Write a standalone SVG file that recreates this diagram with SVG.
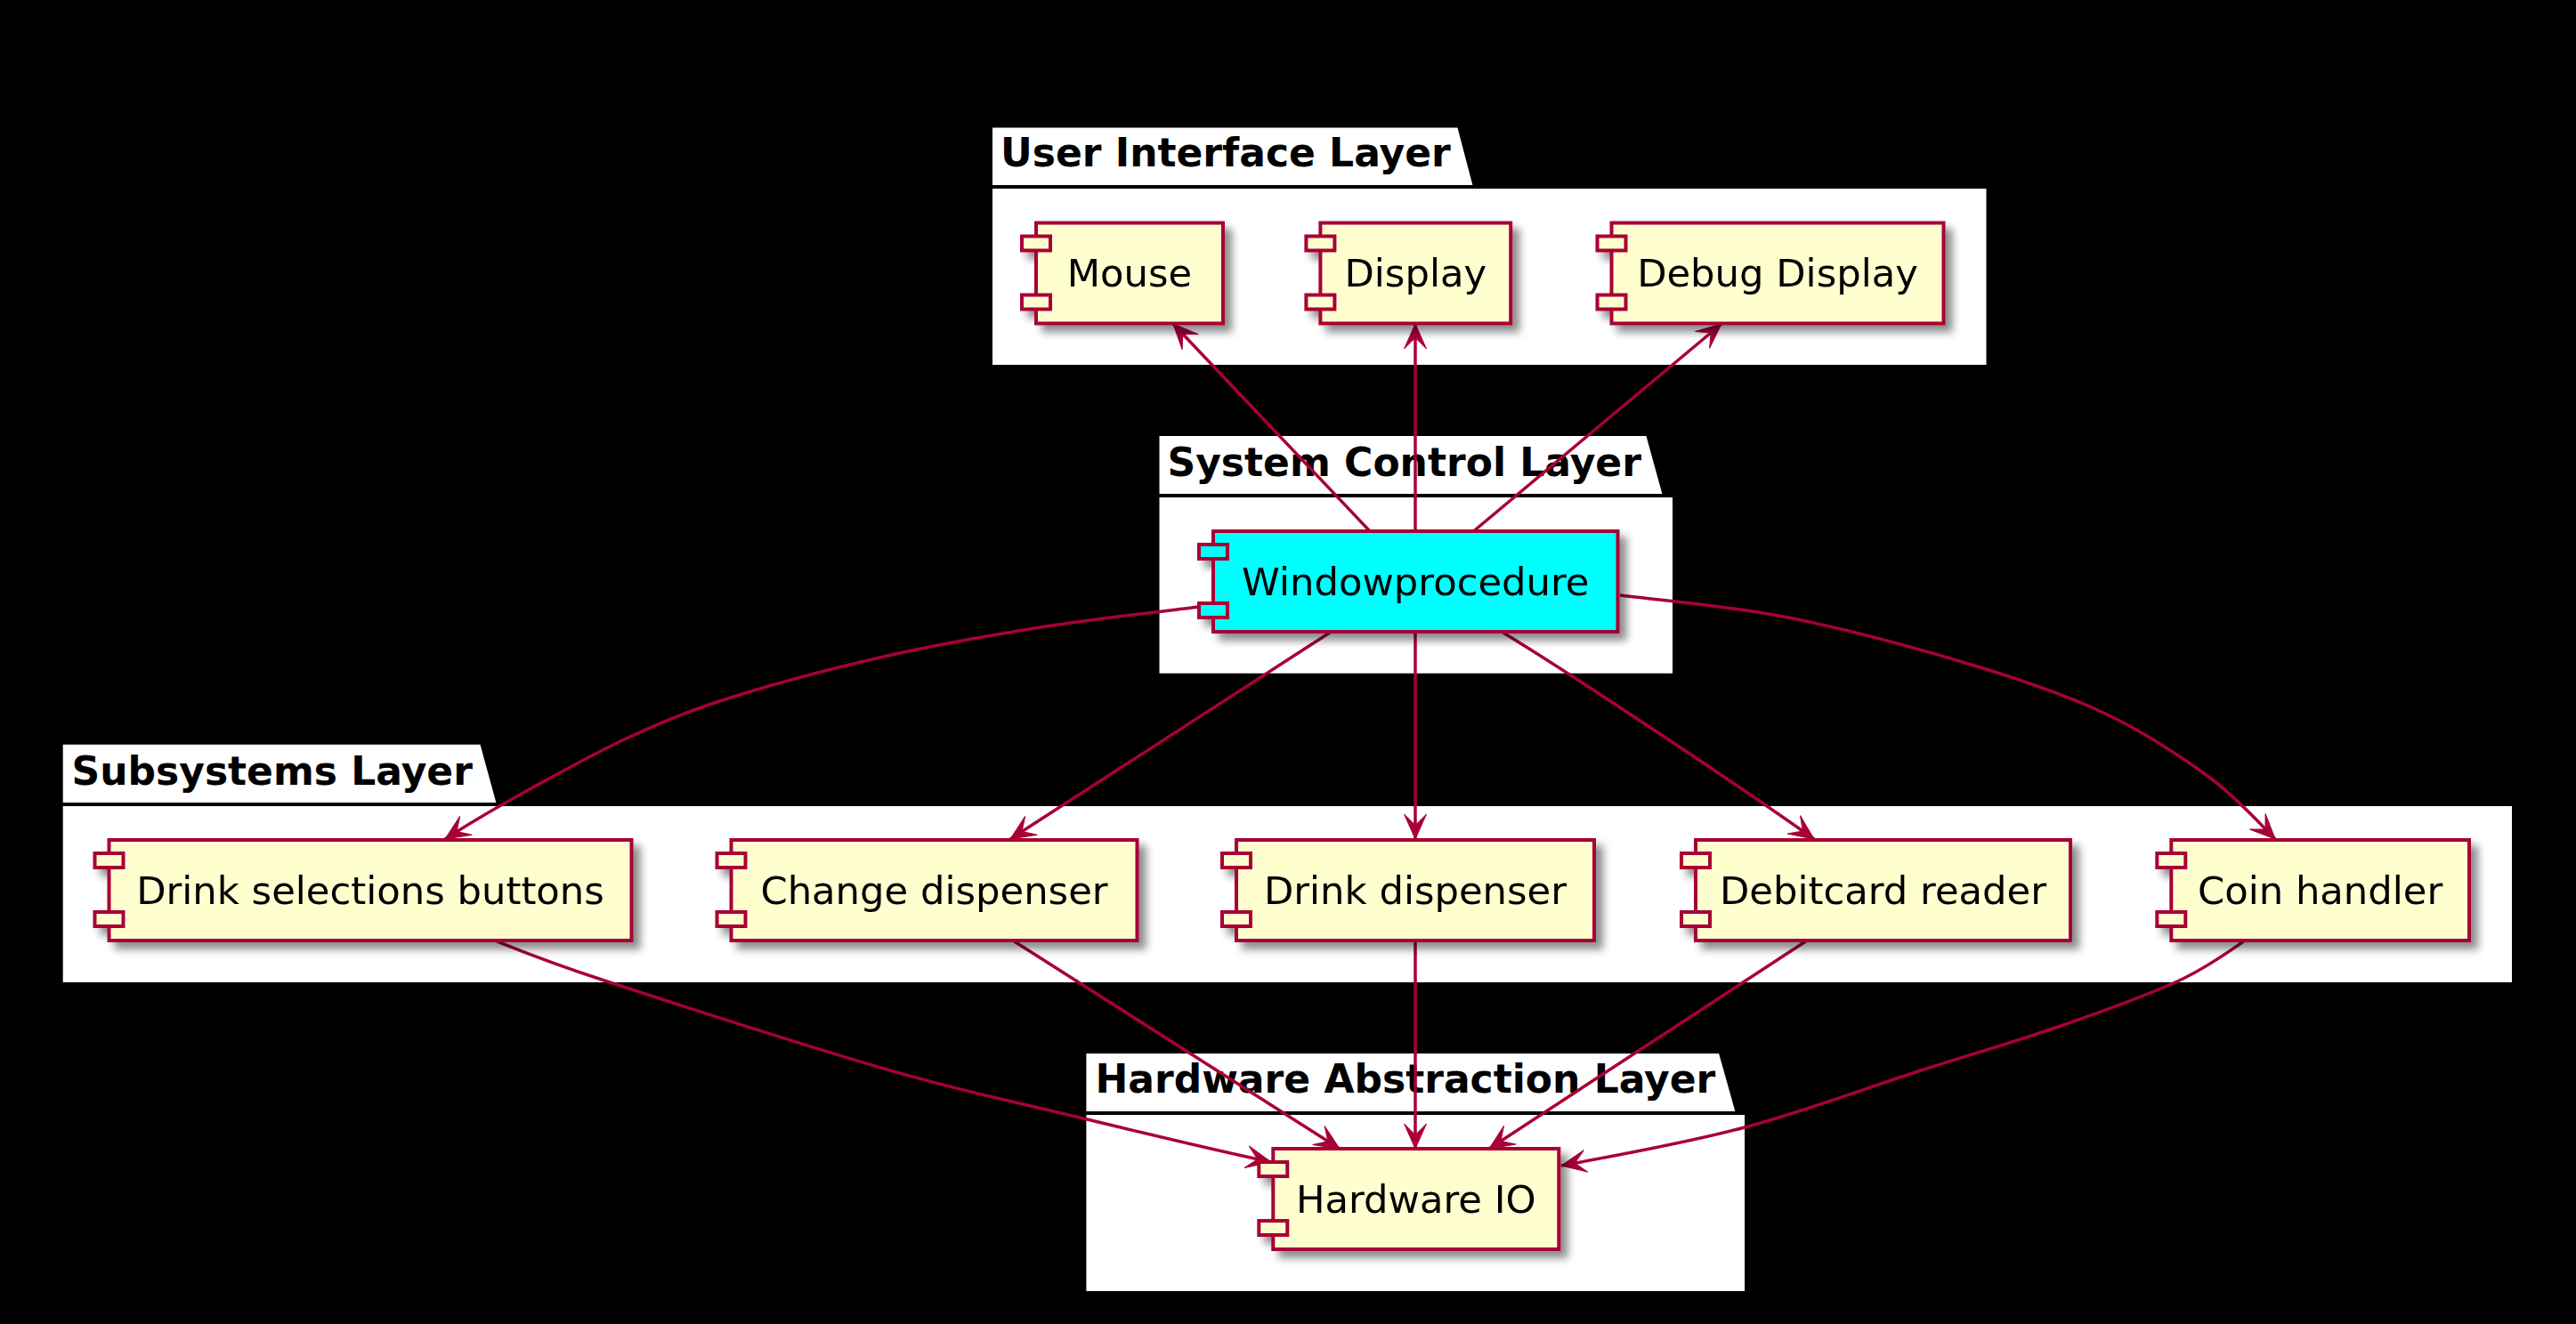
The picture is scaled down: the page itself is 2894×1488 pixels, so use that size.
<svg xmlns="http://www.w3.org/2000/svg" width="2894" height="1488" viewBox="0 0 2894 1488">
<style>
.pkg{fill:#FFFFFF;stroke:#000000;stroke-width:4}
.pkgline{fill:none;stroke:#000000;stroke-width:4}
.ptitle{font-family:"DejaVu Sans",sans-serif;font-weight:bold;font-size:44px;fill:#000000}
.node{fill:#FEFECE;stroke:#A80036;stroke-width:4}
.node.hl{fill:#00FFFF}
.port{fill:#FEFECE;stroke:#A80036;stroke-width:4}
.port.hl{fill:#00FFFF}
.label{font-family:"DejaVu Sans",sans-serif;font-size:43.3px;fill:#000000;text-anchor:middle}
.edge{fill:none;stroke:#A80036;stroke-width:3.5;marker-end:url(#arrow)}
</style>
<defs>
<filter id="shadow" x="-20%" y="-20%" width="150%" height="160%">
<feGaussianBlur in="SourceAlpha" stdDeviation="5"/>
<feOffset dx="8" dy="8" result="b"/>
<feFlood flood-color="#000000" flood-opacity="0.45"/>
<feComposite in2="b" operator="in" result="s"/>
<feMerge><feMergeNode in="s"/><feMergeNode in="SourceGraphic"/></feMerge>
</filter>
<marker id="arrow" viewBox="0 -14 30 28" refX="28" refY="0" markerWidth="30" markerHeight="28" markerUnits="userSpaceOnUse" orient="auto" overflow="visible">
<path d="M28,0 L0,-12.5 L12.5,0 L0,12.5 Z" fill="#A80036" stroke="#A80036" stroke-width="1"/>
</marker>
</defs>
<rect x="0" y="0" width="2894" height="1488" fill="#000000"/>

<g id="pkg-ui">
<path class="pkg" d="M1113 141.5 L1639 141.5 L1657 210 L2233.5 210 L2233.5 412 L1113 412 Z"/>
<path class="pkgline" d="M1113 210 L1657 210"/>
<text class="ptitle" x="1124" y="187">User Interface Layer</text>
</g>
<g id="pkg-sc">
<path class="pkg" d="M1300.5 488 L1851 488 L1870 557 L1881 557 L1881 758.7 L1300.5 758.7 Z"/>
<path class="pkgline" d="M1300.5 557 L1870 557"/>
<text class="ptitle" x="1311.5" y="535">System Control Layer</text>
</g>
<g id="pkg-sub">
<path class="pkg" d="M68.7 834.7 L541 834.7 L560 904 L2824 904 L2824 1106 L68.7 1106 Z"/>
<path class="pkgline" d="M68.7 904 L560 904"/>
<text class="ptitle" x="80.5" y="881.5">Subsystems Layer</text>
</g>
<g id="pkg-hal">
<path class="pkg" d="M1218.4 1182 L1932.6 1182 L1952 1251 L1962 1251 L1962 1453 L1218.4 1453 Z"/>
<path class="pkgline" d="M1218.4 1251 L1952 1251"/>
<text class="ptitle" x="1230.5" y="1228">Hardware Abstraction Layer</text>
</g>

<g id="connectors">
<path class="edge" d="M1539 597 L1318 364"/>
<path class="edge" d="M1590 597 L1590 364"/>
<path class="edge" d="M1655.5 597 L1934 364"/>
<path class="edge" d="M1347 682 C1317.3 685.8 1227.3 695.8 1169 705 C1110.7 714.2 1054.5 724 997 737 C939.5 750 871.8 768 824 783 C776.2 798 748.2 809.7 710 827 C671.8 844.3 630 867.8 595 887 C560 906.2 515.8 932.8 500 943"/>
<path class="edge" d="M1495.4 710 L1135 943"/>
<path class="edge" d="M1590 710 L1590 943"/>
<path class="edge" d="M1687 710 C1767 758.4 1958 886 2038 943"/>
<path class="edge" d="M1820 669 C1850.7 673 1939.3 680.3 2004 693 C2068.7 705.7 2148.5 727.2 2208 745 C2267.5 762.8 2315.7 778.8 2361 800 C2406.3 821.2 2447.5 848.3 2480 872 C2512.5 895.7 2543.3 930.3 2556 943"/>
<path class="edge" d="M556 1057 C577 1065.5 608 1078.8 682 1103 C756 1127.2 912.2 1177.7 1000 1203 C1087.8 1228.3 1137.7 1237.7 1209 1255 C1280.3 1272.3 1391.5 1298.3 1428 1306"/>
<path class="edge" d="M1138 1057 L1505 1291"/>
<path class="edge" d="M1590 1057 L1590 1291"/>
<path class="edge" d="M2030 1057 L1673 1291"/>
<path class="edge" d="M2522 1057 C2509.3 1065.5 2480.5 1087.2 2446 1103 C2411.5 1118.8 2363 1136.3 2315 1153 C2267 1169.7 2217.2 1184 2158 1203 C2098.8 1222 2027.3 1249 1960 1267 C1892.7 1285 1788.3 1303.7 1754 1310"/>
</g>

<g id="mouse" filter="url(#shadow)">
<rect class="node" x="1164" y="250.5" width="210" height="113"/>
<rect class="port" x="1148" y="265.5" width="32" height="16"/>
<rect class="port" x="1148" y="331.5" width="32" height="16"/>
<text class="label" x="1269" y="322">Mouse</text>
</g>
<g id="display" filter="url(#shadow)">
<rect class="node" x="1483.4" y="250.5" width="213.8" height="113"/>
<rect class="port" x="1467.4" y="265.5" width="32" height="16"/>
<rect class="port" x="1467.4" y="331.5" width="32" height="16"/>
<text class="label" x="1590.3" y="322">Display</text>
</g>
<g id="debug-display" filter="url(#shadow)">
<rect class="node" x="1810.5" y="250.5" width="373" height="113"/>
<rect class="port" x="1794.5" y="265.5" width="32" height="16"/>
<rect class="port" x="1794.5" y="331.5" width="32" height="16"/>
<text class="label" x="1997" y="322">Debug Display</text>
</g>
<g id="windowprocedure" filter="url(#shadow)">
<rect class="node hl" x="1363" y="597" width="454.5" height="113"/>
<rect class="port hl" x="1347" y="612" width="32" height="16"/>
<rect class="port hl" x="1347" y="678" width="32" height="16"/>
<text class="label" x="1590.3" y="668.5">Windowprocedure</text>
</g>
<g id="drink-selections-buttons" filter="url(#shadow)">
<rect class="node" x="122.5" y="944" width="587" height="113"/>
<rect class="port" x="106.5" y="959" width="32" height="16"/>
<rect class="port" x="106.5" y="1025" width="32" height="16"/>
<text class="label" x="416" y="1015.5">Drink selections buttons</text>
</g>
<g id="change-dispenser" filter="url(#shadow)">
<rect class="node" x="821.5" y="944" width="456" height="113"/>
<rect class="port" x="805.5" y="959" width="32" height="16"/>
<rect class="port" x="805.5" y="1025" width="32" height="16"/>
<text class="label" x="1049.5" y="1015.5">Change dispenser</text>
</g>
<g id="drink-dispenser" filter="url(#shadow)">
<rect class="node" x="1389" y="944" width="402" height="113"/>
<rect class="port" x="1373" y="959" width="32" height="16"/>
<rect class="port" x="1373" y="1025" width="32" height="16"/>
<text class="label" x="1590" y="1015.5">Drink dispenser</text>
</g>
<g id="debitcard-reader" filter="url(#shadow)">
<rect class="node" x="1905" y="944" width="421" height="113"/>
<rect class="port" x="1889" y="959" width="32" height="16"/>
<rect class="port" x="1889" y="1025" width="32" height="16"/>
<text class="label" x="2115.5" y="1015.5">Debitcard reader</text>
</g>
<g id="coin-handler" filter="url(#shadow)">
<rect class="node" x="2439.3" y="944" width="334.7" height="113"/>
<rect class="port" x="2423.3" y="959" width="32" height="16"/>
<rect class="port" x="2423.3" y="1025" width="32" height="16"/>
<text class="label" x="2606.6" y="1015.5">Coin handler</text>
</g>
<g id="hardware-io" filter="url(#shadow)">
<rect class="node" x="1430.3" y="1291" width="321" height="113"/>
<rect class="port" x="1414.3" y="1306" width="32" height="16"/>
<rect class="port" x="1414.3" y="1372" width="32" height="16"/>
<text class="label" x="1590.8" y="1362.5">Hardware IO</text>
</g>
</svg>
